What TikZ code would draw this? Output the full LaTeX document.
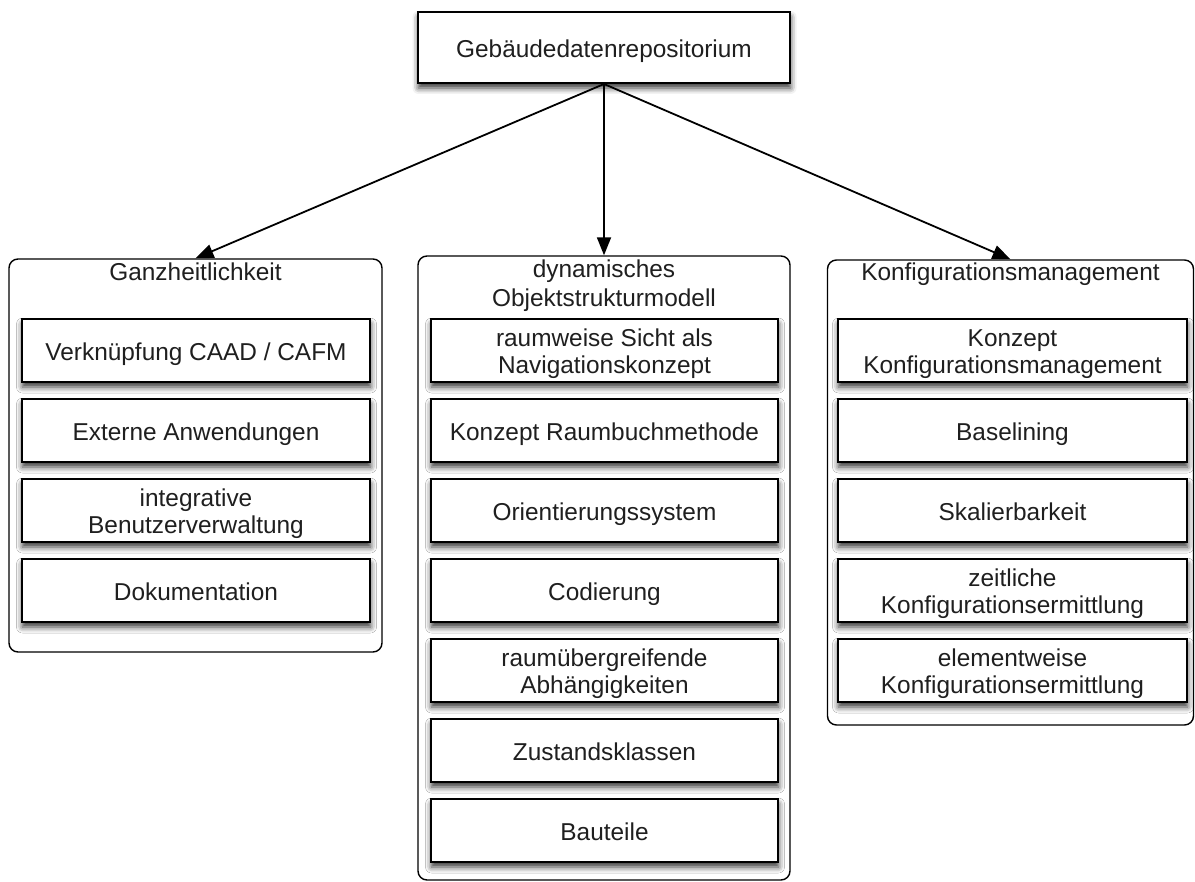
\documentclass[tikz,border=0pt]{standalone}
\usepackage{fontspec}
\setmainfont{Liberation Sans}
\usetikzlibrary{arrows.meta,shadows.blur}
% centred label, one or more lines, set slightly low in its box
\newcommand{\boxtext}[1]{\raisebox{-4.5pt}[\height][\depth]{\begin{tabular}{@{}c@{}}#1\end{tabular}}}
\newcommand{\headtext}[1]{\begin{tabular}[t]{@{}c@{}}#1\end{tabular}}
\begin{document}
\begin{tikzpicture}[x=1pt,y=-1pt,
  every node/.style={text=black!88, inner sep=0pt, font=\fontsize{24.4}{27}\selectfont},
  itembox/.style={draw=black, line width=2pt, fill=white, minimum height=63pt,
    blur shadow={shadow xshift=0.5pt, shadow yshift=-5pt, shadow blur radius=6pt, shadow opacity=80}},
  groupbox/.style={draw=black, line width=1.4pt, rounded corners=9pt, fill=white},
  grouptitle/.style={anchor=base, font=\fontsize{24.4}{28.5}\selectfont},
  link/.style={line width=1.8pt, -{Triangle[length=18pt,width=14pt]}}
]
\useasboundingbox (0,0) rectangle (1195,882);

% root
\node[itembox, minimum width=372pt, minimum height=71pt] (root) at (604,47.5) {\boxtext{Gebäudedatenrepositorium}};

% group frames
\node[groupbox, minimum width=373pt, minimum height=393pt] (gA) at (195.5,455.5) {};
\node[groupbox, minimum width=372pt, minimum height=624pt] (gB) at (604,568) {};
\node[groupbox, minimum width=366pt, minimum height=465pt] (gC) at (1010.5,492.5) {};

% group titles
\node[grouptitle] (tA) at (195.5,281) {\headtext{Ganzheitlichkeit}};
\node[grouptitle] (tB) at (604,278) {\headtext{dynamisches\\Objektstrukturmodell}};
\node[grouptitle] (tC) at (1010.5,281) {\headtext{Konfigurationsmanagement}};

% left column
\begin{scope}[every node/.append style={itembox, minimum width=348pt}]
\node (a1) at (196,350.5) {\boxtext{Verknüpfung CAAD / CAFM}};
\node (a2) at (196,430.5) {\boxtext{Externe Anwendungen}};
\node (a3) at (196,510.5) {\boxtext{integrative\\Benutzerverwaltung}};
\node (a4) at (196,590.5) {\boxtext{Dokumentation}};
\end{scope}

% middle column
\begin{scope}[every node/.append style={itembox, minimum width=347pt}]
\node (b1) at (604.5,350.5) {\boxtext{raumweise Sicht als\\Navigationskonzept}};
\node (b2) at (604.5,430.5) {\boxtext{Konzept Raumbuchmethode}};
\node (b3) at (604.5,510.5) {\boxtext{Orientierungssystem}};
\node (b4) at (604.5,590.5) {\boxtext{Codierung}};
\node (b5) at (604.5,670.5) {\boxtext{raumübergreifende\\Abhängigkeiten}};
\node (b6) at (604.5,750.5) {\boxtext{Zustandsklassen}};
\node (b7) at (604.5,830.5) {\boxtext{Bauteile}};
\end{scope}

% right column
\begin{scope}[every node/.append style={itembox, minimum width=349pt}]
\node (c1) at (1012.5,350.5) {\boxtext{Konzept\\Konfigurationsmanagement}};
\node (c2) at (1012.5,430.5) {\boxtext{Baselining}};
\node (c3) at (1012.5,510.5) {\boxtext{Skalierbarkeit}};
\node (c4) at (1012.5,590.5) {\boxtext{zeitliche\\Konfigurationsermittlung}};
\node (c5) at (1012.5,670.5) {\boxtext{elementweise\\Konfigurationsermittlung}};
\end{scope}

% connectors
\draw[link] (root.south) -- (gA.north);
\draw[link] (root.south) -- (gB.north);
\draw[link] (root.south) -- (gC.north);
\end{tikzpicture}
\end{document}
